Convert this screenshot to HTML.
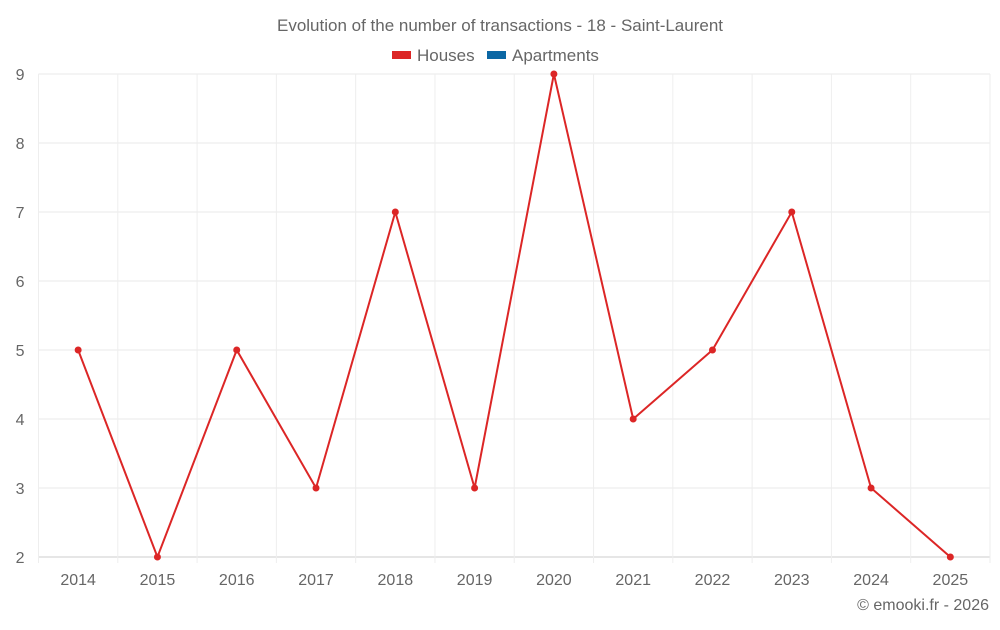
<!DOCTYPE html>
<html><head><meta charset="utf-8"><style>
body{margin:0;background:#fff;font-family:"Liberation Sans",sans-serif;}
svg text{font-family:"Liberation Sans",sans-serif;fill:#666;}
</style></head><body>
<svg id="chart" width="1000" height="625">
<text x="500" y="31" text-anchor="middle" font-size="17">Evolution of the number of transactions - 18 - Saint-Laurent</text>
<g>
<g><rect x="392" y="51" width="19" height="8" fill="#dc2626"/><text x="417" y="61" font-size="17">Houses</text></g>
<g><rect x="487" y="51" width="19" height="8" fill="#0b67a4"/><text x="512" y="61" font-size="17">Apartments</text></g>
</g>
<g id="grid"></g>
<g id="axes"></g>
<g id="series"></g>
<text x="989" y="610" text-anchor="end" font-size="16">© emooki.fr - 2026</text>
</svg>
<script>
const years=["2014","2015","2016","2017","2018","2019","2020","2021","2022","2023","2024","2025"];
const houses=[5,2,5,3,7,3,9,4,5,7,3,2];
const yTicks=[2,3,4,5,6,7,8,9];
const NS="http://www.w3.org/2000/svg";
const L=38.5,R=990,T=74,B=557,yMin=2,yMax=9;
const band=(R-L)/years.length;
const x=i=>L+band*(i+0.5);
const y=v=>B-(v-yMin)/(yMax-yMin)*(B-T);
function mk(tag,attrs,parent){const e=document.createElementNS(NS,tag);for(const k in attrs)e.setAttribute(k,attrs[k]);parent.appendChild(e);return e;}
const grid=document.getElementById('grid'),axes=document.getElementById('axes'),ser=document.getElementById('series');
yTicks.forEach(t=>{
  const ln=mk('line',{x1:L,x2:R,y1:y(t),y2:y(t),stroke:t===yMin?'#ccc':'#e8e8e8','stroke-width':1},grid);
  
  
  const tx=mk('text',{x:L-14,y:y(t)+6,'text-anchor':'end','font-size':16},axes);
  tx.textContent=t;
  
  
});
for(let i=0;i<=years.length;i++){
  const gx=L+band*i;
  const ln=mk('line',{x1:gx,x2:gx,y1:T,y2:B+6,stroke:'#eee','stroke-width':1},grid);
  
  
}
years.forEach((yr,i)=>{
  const tx=mk('text',{x:x(i),y:585,'text-anchor':'middle','font-size':16},axes);
  tx.textContent=yr;
  
  
});
const pl=mk('polyline',{points:houses.map((v,i)=>x(i)+','+y(v)).join(' '),fill:'none',stroke:'#dc2626','stroke-width':2},ser);


houses.forEach((v,i)=>{
  const c=mk('circle',{cx:x(i),cy:y(v),r:3.5,fill:'#dc2626'},ser);
  
  
});
</script>
</body></html>
